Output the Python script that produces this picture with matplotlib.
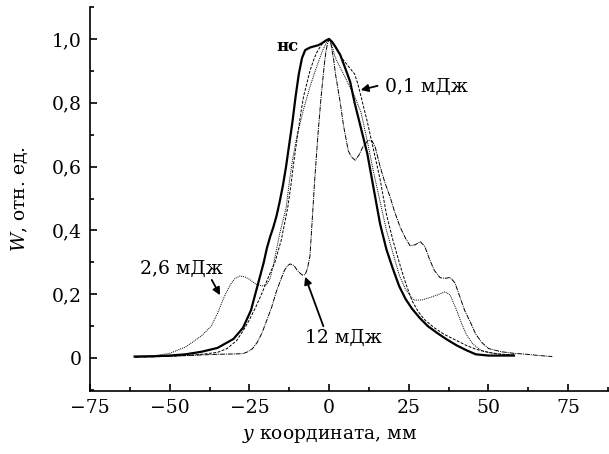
import matplotlib
matplotlib.use("Agg")
import matplotlib.pyplot as plt
from matplotlib.ticker import MultipleLocator, FuncFormatter

plt.rcParams['font.family'] = ['DejaVu Serif']
plt.rcParams['mathtext.fontset'] = 'dejavuserif'

# нс (сплошная)
x_ns = [-61, -55, -50, -45, -40, -35, -30, -27, -24.5, -22.5, -20.5, -19.5, -18.5, -17.5,
        -16.5, -15.5, -14.5, -13.5, -12.5, -11.5, -10.5, -9.5, -8.5, -7.5, -6, -5, -3.5,
        -2.3, -1, 0, 1, 2, 3.5, 5, 6.6, 8, 10, 12, 14, 16, 18, 20, 22, 24, 26, 28.5,
        31, 34, 37, 40, 43, 46, 50, 54, 58]
y_ns = [0.005, 0.006, 0.008, 0.012, 0.02, 0.032, 0.06, 0.095, 0.15, 0.225, 0.3, 0.345,
        0.38, 0.41, 0.445, 0.49, 0.54, 0.6, 0.67, 0.74, 0.82, 0.89, 0.94, 0.965, 0.973,
        0.976, 0.98, 0.986, 0.995, 1.0, 0.99, 0.975, 0.95, 0.91, 0.866, 0.8, 0.72, 0.64,
        0.53, 0.42, 0.34, 0.28, 0.225, 0.185, 0.155, 0.125, 0.1, 0.078, 0.058, 0.04,
        0.025, 0.012, 0.008, 0.008, 0.008]

# 0,1 мДж (штриховая)
x_01 = [-61, -55, -50, -45, -40, -35, -32, -29, -27, -25, -23, -21, -19, -17, -15, -14,
        -13, -12, -11, -10, -9, -8, -7, -6, -5, -4, -3, -2, -1, 0, 1, 2, 4, 6, 8, 9, 10,
        12, 14, 16, 18, 20, 22, 24, 26, 28, 30, 33, 36, 40, 43, 46, 50, 54, 58]
y_01 = [0.004, 0.005, 0.006, 0.008, 0.012, 0.018, 0.03, 0.055, 0.085, 0.12, 0.16, 0.205,
        0.255, 0.3, 0.37, 0.42, 0.47, 0.54, 0.62, 0.69, 0.76, 0.82, 0.86, 0.9, 0.93,
        0.955, 0.972, 0.987, 0.996, 1.0, 0.99, 0.975, 0.94, 0.915, 0.89, 0.86, 0.82,
        0.74, 0.65, 0.56, 0.45, 0.37, 0.3, 0.235, 0.18, 0.145, 0.12, 0.095, 0.075, 0.055,
        0.04, 0.028, 0.018, 0.012, 0.01]

# 2,6 мДж (пунктир)
x_26 = [-61, -55, -50, -45, -40, -37, -35, -33, -31, -29.5, -28, -26.5, -25, -23, -21,
        -19.5, -18.5, -17.5, -16.5, -15.5, -14.5, -13.5, -12.5, -11.5, -10, -8, -6, -4,
        -2, -1, 0, 1, 2, 4, 6, 8, 10, 12, 14, 16, 18, 20, 22, 24, 26.5, 29, 31.7, 34,
        36.4, 38, 40, 41.5, 43, 45, 48, 52, 57]
y_26 = [0.004, 0.007, 0.015, 0.035, 0.07, 0.1, 0.14, 0.19, 0.23, 0.25, 0.257, 0.255,
        0.247, 0.232, 0.226, 0.232, 0.25, 0.29, 0.34, 0.39, 0.43, 0.47, 0.55, 0.62, 0.7,
        0.78, 0.85, 0.91, 0.965, 0.985, 1.0, 0.975, 0.94, 0.9, 0.86, 0.82, 0.77, 0.68,
        0.58, 0.49, 0.4, 0.33, 0.26, 0.215, 0.182, 0.182, 0.19, 0.198, 0.208, 0.197, 0.15,
        0.11, 0.075, 0.045, 0.022, 0.014, 0.01]

# 12 мДж (штрихпунктир)
x_12 = [-61, -55, -50, -45, -40, -35, -30, -27, -25.5, -24, -22.5, -21, -19.5, -18,
        -16.5, -15, -14, -13, -12.2, -11, -10, -9, -8.3, -7.5, -6.8, -6, -5.5, -5, -4.5,
        -4, -3.5, -3, -2.5, -2, -1.5, -1, -0.5, 0, 0.5, 1, 1.5, 2, 2.5, 3, 3.5, 4.5, 6, 7,
        8.2, 9.3, 10.5, 12.3, 13.5, 14.5, 16, 17.5, 19.1, 20.5, 22.3, 24, 25.4, 27,
        28.6, 30, 31.5, 33, 34.8, 36.5, 38, 39.5, 41.1, 42.5, 44.2, 46, 48, 50, 54, 58,
        62, 66, 70]
y_12 = [0.003, 0.004, 0.006, 0.008, 0.01, 0.012, 0.013, 0.014, 0.02, 0.03, 0.05, 0.08,
        0.12, 0.16, 0.21, 0.25, 0.275, 0.29, 0.295, 0.29, 0.275, 0.265, 0.26, 0.262,
        0.28, 0.32, 0.4, 0.48, 0.56, 0.63, 0.7, 0.76, 0.82, 0.87, 0.92, 0.96, 0.985, 1.0,
        0.99, 0.96, 0.93, 0.89, 0.86, 0.83, 0.8, 0.73, 0.65, 0.63, 0.62, 0.635, 0.66,
        0.683, 0.68, 0.66, 0.6, 0.55, 0.506, 0.46, 0.41, 0.375, 0.352, 0.355, 0.365,
        0.35, 0.31, 0.275, 0.252, 0.25, 0.253, 0.235, 0.19, 0.15, 0.115, 0.075, 0.048,
        0.03, 0.02, 0.015, 0.012, 0.008, 0.005]

fig = plt.figure(figsize=(6.09, 4.54), dpi=100)
ax = fig.add_axes([90/609, 63/454, 519/609, 384/454])

ax.plot(x_ns, y_ns, color='black', lw=1.6)
ax.plot(x_01, y_01, color='black', lw=0.7, ls=(0, (3, 1.5)))
ax.plot(x_26, y_26, color='black', lw=0.7, ls=(0, (1, 1)))
ax.plot(x_12, y_12, color='black', lw=0.7, ls=(0, (5, 1, 1, 1)))

ax.set_xlim(-75, 87.8)
ax.set_ylim(-0.103, 1.10)

for s in ['top', 'right']:
    ax.spines[s].set_visible(False)
for s in ['left', 'bottom']:
    ax.spines[s].set_linewidth(1.2)

ax.xaxis.set_major_locator(MultipleLocator(25))
ax.xaxis.set_minor_locator(MultipleLocator(12.5))
ax.yaxis.set_major_locator(MultipleLocator(0.2))
ax.yaxis.set_minor_locator(MultipleLocator(0.1))
ax.xaxis.set_major_formatter(FuncFormatter(lambda v, p: f'{int(round(v))}'.replace('-', '\u2212')))
ax.yaxis.set_major_formatter(FuncFormatter(
    lambda v, p: '0' if abs(v) < 1e-9 else f'{v:.1f}'.replace('.', ',')))
ax.tick_params(which='both', direction='in', width=1.2, labelsize=13.5, pad=6)
ax.tick_params(which='major', length=5)
ax.tick_params(which='minor', length=3)

ax.set_xlabel('$y$ координата, мм', fontsize=13.5)
ax.set_ylabel('$W$, отн. ед.', fontsize=13.5)
ax.xaxis.set_label_coords(0.462, -0.095)
ax.yaxis.set_label_coords(-0.116, 0.5)

arr = dict(arrowstyle='-|>', color='black', lw=1.3, mutation_scale=11, shrinkA=0, shrinkB=0)
ax.text(-12.9, 0.975, 'нс', fontsize=12, fontweight='bold', ha='center', va='center')
ax.annotate('', xy=(9.9, 0.84), xytext=(15.2, 0.853), arrowprops=arr)
ax.text(17.6, 0.85, '0,1 мДж', fontsize=13.5, ha='left', va='center')
ax.annotate('', xy=(-34.2, 0.197), xytext=(-36.8, 0.245), arrowprops=arr)
ax.text(-46.4, 0.28, '2,6 мДж', fontsize=13.5, ha='center', va='center')
ax.annotate('', xy=(-7.5, 0.255), xytext=(-1.8, 0.10), arrowprops=arr)
ax.text(4.4, 0.063, '12 мДж', fontsize=13.5, ha='center', va='center')

fig.savefig('out.png', dpi=100)
